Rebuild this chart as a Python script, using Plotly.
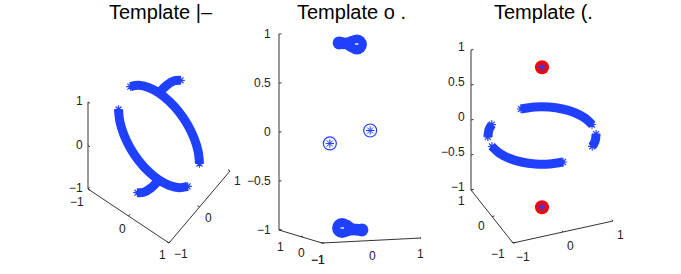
import plotly.graph_objects as go

W, H = 681, 274
BLUE = "#2040ff"
AXC = "#333333"

# --- 3D data values (x, y, z) ---
p1_arc_a_x = [-1, -0.966, -0.866, -0.707, -0.5, -0.259, 0, 0.259, 0.5, 0.707]
p1_arc_a_z = [0, -0.259, -0.5, -0.707, -0.866, -0.966, -1, -0.966, -0.866, -0.707]
p1_arc_b_x = [1, 0.966, 0.866, 0.707, 0.5, 0.259, 0, -0.259, -0.5, -0.707]
p1_arc_b_z = [0, 0.259, 0.5, 0.707, 0.866, 0.966, 1, 0.966, 0.866, 0.707]
p1_arc_c_y = [0, 0.259, 0.5, 0.707]
p1_arc_c_z = [1, 0.966, 0.866, 0.707]
p1_arc_d_y = [0, -0.259, -0.5, -0.707]
p1_arc_d_z = [-1, -0.966, -0.866, -0.707]

p2_top_x = [-0.22, -0.14, -0.06, 0.0, 0.06, 0.14]
p2_top_z = [0.955, 0.95, 0.945, 0.94, 0.935, 0.93]
p2_top_size = [13, 12, 12, 14, 17, 20]
p2_top_core_x = [0.1, 0.17]
p2_top_core_z = [0.935, 0.935]
p2_bot_x = [-0.16, -0.08, -0.02, 0.06, 0.14, 0.24]
p2_bot_z = [-0.935, -0.94, -0.95, -0.955, -0.96, -0.965]
p2_bot_size = [20, 17, 13, 12, 12, 13]
p2_bot_core_x = [-0.19, -0.12]
p2_bot_core_z = [-0.935, -0.935]
p2_pts_x = [-0.72, 0.72]
p2_pts_y = [-0.72, 0.72]
p2_pts_z = [-0.01, -0.01]

p3_arc_a_x = [1, 0.966, 0.866, 0.707, 0.5, 0.259, 0]
p3_arc_a_y = [0, 0.259, 0.5, 0.707, 0.866, 0.966, 1]
p3_arc_b_x = [-1, -0.966, -0.866, -0.707, -0.5, -0.259, 0]
p3_arc_b_y = [0, -0.259, -0.5, -0.707, -0.866, -0.966, -1]
p3_arc_c_x = [-0.707, -0.82, -0.94]
p3_arc_c_y = [0.707, 0.57, 0.34]
p3_arc_d_x = [0.707, 0.82, 0.94]
p3_arc_d_y = [-0.707, -0.57, -0.34]
p3_pole_z = [0.975, -1.025]

z_ticks_full = [-1, -0.5, 0, 0.5, 1]
z_ticks_short = [-1, 0, 1]
xy_ticks = [-1, 0, 1]
titles = ["Template |\u2013", "Template o .", "Template (."]

# --- per-panel view: pixel centre and unit vectors of the three axes ---
VIEWS = [
    dict(c=(159, 136.5), ex=(40.5, 27), ey=(30.5, -36), ez=(0, -43.5)),
    dict(c=(350, 136), ex=(49.5, -2.5), ey=(-21.5, -6.5), ez=(0, -98)),
    dict(c=(542, 135.5), ex=(50, -11), ey=(-21, -26.5), ez=(0, -70)),
]
DOMAINS = [(50, 245), (245, 440), (440, 640)]
TITLE_POS = [(160.5, 12), (351.5, 12), (543, 12)]


def proj(v, xs, ys, zs):
    px, py = [], []
    for x, y, z in zip(xs, ys, zs):
        px.append(v["c"][0] + x * v["ex"][0] + y * v["ey"][0] + z * v["ez"][0])
        py.append(v["c"][1] + x * v["ex"][1] + y * v["ey"][1] + z * v["ez"][1])
    return px, py


fig = go.Figure()


def names(i):
    return ("x" if i == 0 else f"x{i+1}"), ("y" if i == 0 else f"y{i+1}")


def add(i, xs, ys, zs, **kw):
    v = VIEWS[i]
    px, py = proj(v, xs, ys, zs)
    xa, ya = names(i)
    kw.setdefault("hoverinfo", "skip")
    kw.setdefault("showlegend", False)
    kw.setdefault("cliponaxis", False)
    fig.add_trace(go.Scatter(x=px, y=py, xaxis=xa, yaxis=ya, **kw))


def thick(i, xs, ys, zs):
    add(i, xs, ys, zs, mode="lines", line=dict(color=BLUE, width=9, shape="spline"))
    add(i, [xs[0], xs[-1]], [ys[0], ys[-1]], [zs[0], zs[-1]], mode="markers",
        marker=dict(symbol="asterisk-open", size=7, color=BLUE, opacity=1,
                    line=dict(color=BLUE, width=1.2)))


def zeros(a):
    return [0] * len(a)


# panel 1
thick(0, p1_arc_a_x, zeros(p1_arc_a_x), p1_arc_a_z)
thick(0, p1_arc_b_x, zeros(p1_arc_b_x), p1_arc_b_z)
thick(0, zeros(p1_arc_c_y), p1_arc_c_y, p1_arc_c_z)
thick(0, zeros(p1_arc_d_y), p1_arc_d_y, p1_arc_d_z)

# panel 2
for xs, zs, ss, cx, cz in [(p2_top_x, p2_top_z, p2_top_size, p2_top_core_x, p2_top_core_z),
                           (p2_bot_x, p2_bot_z, p2_bot_size, p2_bot_core_x, p2_bot_core_z)]:
    add(1, xs, zeros(xs), zs, mode="lines+markers",
        line=dict(color=BLUE, width=11),
        marker=dict(symbol="circle", size=ss, color=BLUE, opacity=1, line=dict(width=0)))
    add(1, cx, zeros(cx), cz, mode="lines", line=dict(color="#e8ecff", width=1.5))
add(1, p2_pts_x, p2_pts_y, p2_pts_z, mode="markers",
    marker=dict(symbol="circle-open", size=13, color=BLUE, line=dict(color=BLUE, width=1.2)))
add(1, p2_pts_x, p2_pts_y, p2_pts_z, mode="markers",
    marker=dict(symbol="asterisk-open", size=7, color=BLUE, line=dict(color=BLUE, width=1)))

# panel 3
thick(2, p3_arc_a_x, p3_arc_a_y, zeros(p3_arc_a_x))
thick(2, p3_arc_b_x, p3_arc_b_y, zeros(p3_arc_b_x))
thick(2, p3_arc_c_x, p3_arc_c_y, zeros(p3_arc_c_x))
thick(2, p3_arc_d_x, p3_arc_d_y, zeros(p3_arc_d_x))
add(2, zeros(p3_pole_z), zeros(p3_pole_z), p3_pole_z, mode="markers",
    marker=dict(symbol="circle", size=14, color="#ff0000", line=dict(width=0)))
add(2, zeros(p3_pole_z), zeros(p3_pole_z), p3_pole_z, mode="markers",
    marker=dict(symbol="asterisk-open", size=7, color=BLUE, line=dict(color=BLUE, width=1)))

# axes: where the z axis stands, which edges carry x and y, and label offsets per tick
AXES = [
    dict(z=(-1, -1), x_y=-1, y_x=1, zt=z_ticks_short, zo=(-3, -1),
         xo=[(-11, 13), (-6.5, 13), (-7, 12)], yo=[(12, 11), (8.5, 11), (7, 10)]),
    dict(z=(-1, 1), x_y=-1, y_x=-1, zt=z_ticks_full, zo=(-6, 0),
         xo=[(-4, 17), (0.5, 15.5), (-1, 16)], yo=[(-4, 17), (0.5, 16.5), (1, 17)]),
    dict(z=(-1, 1), x_y=-1, y_x=-1, zt=z_ticks_full, zo=(-4, -3),
         xo=[(10, 14), (7, 14), (7, 14)], yo=[(-15, 11), (-11, 9.5), (-10, 11)]),
]
TICK = 0.05


def seg(i, xs, ys, zs):
    add(i, xs, ys, zs, mode="lines", line=dict(color=AXC, width=1))


for i, a in enumerate(AXES):
    v = VIEWS[i]
    xa, ya = names(i)
    zx, zy = a["z"]
    seg(i, [zx, zx], [zy, zy], [-1, 1])
    seg(i, [-1, 1], [a["x_y"], a["x_y"]], [-1, -1])
    seg(i, [a["y_x"], a["y_x"]], [-1, 1], [-1, -1])

    def lab(t, xv, yv, zv, off, right=False):
        px, py = proj(v, [xv], [yv], [zv])
        fig.add_annotation(x=px[0], y=py[0], xref=xa, yref=ya, text=str(t).replace("-", "\u2212"),
                           showarrow=False, xanchor="right" if right else "center",
                           yanchor="middle", xshift=off[0], yshift=-off[1],
                           font=dict(family="Liberation Sans", size=12, color="#222222"))

    for t in a["zt"]:
        lab(t, zx, zy, t, a["zo"], True)
        seg(i, [zx, zx + TICK], [zy, zy], [t, t])
    for k, t in enumerate(xy_ticks):
        lab(t, t, a["x_y"], -1, a["xo"][k])
        lab(t, a["y_x"], t, -1, a["yo"][k])
        seg(i, [t, t], [a["x_y"], a["x_y"] + TICK], [-1, -1])
        seg(i, [a["y_x"], a["y_x"] + (TICK if a["y_x"] < 0 else -TICK)], [t, t], [-1, -1])

for i, t in enumerate(titles):
    xa, ya = names(i)
    fig.add_annotation(x=TITLE_POS[i][0], y=TITLE_POS[i][1], xref=xa, yref=ya, text=t,
                       showarrow=False, font=dict(family="Liberation Sans", size=20, color="#000000"))

layout = dict(width=W, height=H, margin=dict(l=0, r=0, t=0, b=0), autosize=False,
              paper_bgcolor="white", plot_bgcolor="white", showlegend=False)
for i, (d0, d1) in enumerate(DOMAINS):
    suf = "" if i == 0 else str(i + 1)
    layout["xaxis" + suf] = dict(domain=[d0 / W, d1 / W], range=[d0, d1], visible=False, fixedrange=True)
    layout["yaxis" + suf] = dict(domain=[0, 1], range=[H, 0], visible=False, fixedrange=True)
fig.update_layout(**layout)
fig.write_html("out.html", config=dict(displayModeBar=False),
               post_script="document.body.style.margin='0';document.body.style.overflow='hidden';")
